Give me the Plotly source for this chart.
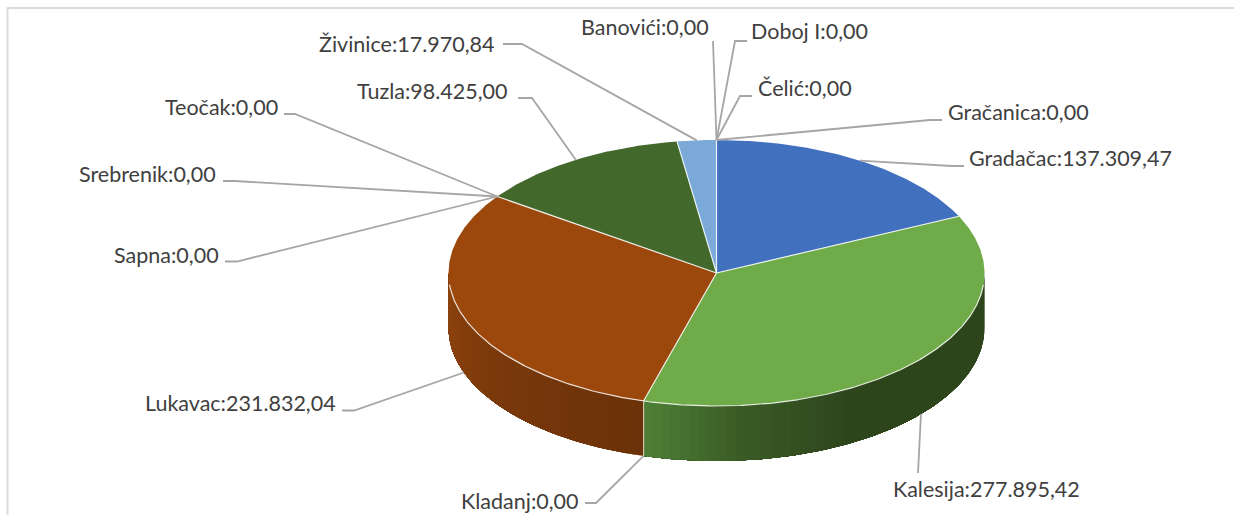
import math
import plotly.graph_objects as go

# ---- data ----
categories = ["Banovići", "Čelić", "Doboj I", "Gračanica", "Gradačac", "Kalesija", "Kladanj",
              "Lukavac", "Sapna", "Srebrenik", "Teočak", "Tuzla", "Živinice"]
values = [0.00, 0.00, 0.00, 0.00, 137309.47, 277895.42, 0.00,
          231832.04, 0.00, 0.00, 0.00, 98425.00, 17970.84]

# ---- styles ----
slice_colors = {"Gradačac": "#4170BF", "Kalesija": "#6FAB48", "Lukavac": "#9C480D",
                "Tuzla": "#43682B", "Živinice": "#7BAAD9"}
side_stops = {"Kalesija": [(90, "#2E451C"), (150, "#2E451C"), (175, "#3A5B25"), (195.75, "#4F8037")],
              "Lukavac": [(195.75, "#6B3108"), (235, "#7A390B"), (270, "#8F430E")]}
TEXT = "#404040"
LEADER = "#A6A6A6"
FRAME = "#DCDCDC"
FONT = "Lato"
FONT_SIZE = 21.5

# ---- layout geometry (pie projection, label boxes) ----
CX, CY, RX, RY, DEPTH = 716.5, 273, 268, 133, 55
# name: (label centre x, label centre y, elbow x, elbow y, leader start x)
label_layout = {
    "Banovići": (645, 26.5, 713, 41, 713),
    "Čelić": (805, 87.5, 740, 96, 752),
    "Doboj I": (809, 30.5, 735, 41, 747),
    "Gračanica": (1018, 111.5, 930, 120, 942),
    "Gradačac": (1070, 157.5, 952, 166, 964),
    "Kalesija": (986, 488.5, 918, 473, 918),
    "Kladanj": (520, 500.5, 596, 503, 585),
    "Lukavac": (240, 402.5, 354, 410.5, 342),
    "Sapna": (166, 254.5, 237, 261.5, 225),
    "Srebrenik": (147, 173.5, 235, 181, 223),
    "Teočak": (221, 106.5, 295, 114, 284),
    "Tuzla": (432, 90.5, 532, 98, 518),
    "Živinice": (407, 43.5, 522, 44, 503),
}


def top(deg, depth=0.0):
    a = math.radians(deg)
    return CX + RX * math.sin(a), CY - RY * math.cos(a) + depth


def arc(a0, a1, depth=0.0, n=None):
    n = n or max(2, int(abs(a1 - a0)) * 2)
    return [top(a0 + (a1 - a0) * i / n, depth) for i in range(n + 1)]


def fmt(v):
    s = f"{v:,.2f}"
    return s.replace(",", "#").replace(".", ",").replace("#", ".")


def lerp_color(stops, deg):
    for (d0, c0), (d1, c1) in zip(stops, stops[1:]):
        if d0 <= deg <= d1:
            t = (deg - d0) / (d1 - d0)
            r = [int(c0[i:i + 2], 16) * (1 - t) + int(c1[i:i + 2], 16) * t for i in (1, 3, 5)]
            return "#%02X%02X%02X" % tuple(round(x) for x in r)
    return stops[-1][1]


total = sum(values)
spans = {}
cum = 0.0
for name, v in zip(categories, values):
    start = cum / total * 360
    cum += v
    spans[name] = (start, cum / total * 360)

fig = go.Figure()


def poly(pts, color):
    fig.add_trace(go.Scatter(x=[p[0] for p in pts], y=[p[1] for p in pts], mode="lines",
                             fill="toself", fillcolor=color, line=dict(width=0),
                             hoverinfo="skip", showlegend=False))


def line(pts, color, width):
    fig.add_trace(go.Scatter(x=[p[0] for p in pts], y=[p[1] for p in pts], mode="lines",
                             line=dict(color=color, width=width), hoverinfo="skip", showlegend=False))


# side wall, shaded in narrow overlapping strips
for name, stops in side_stops.items():
    a0, a1 = spans[name]
    a0, a1 = max(a0, 90), min(a1, 270)
    n = int((a1 - a0) / 2) + 1
    for i in range(n):
        s0 = a0 + (a1 - a0) * i / n
        s1 = a0 + (a1 - a0) * (i + 1) / n
        # each strip runs on to the far end, later strips paint over it
        poly(arc(s0, a1) + arc(a1, s0, DEPTH), lerp_color(stops, (s0 + s1) / 2))

# top face
for name, color in slice_colors.items():
    a0, a1 = spans[name]
    poly([(CX, CY)] + arc(a0, a1) + [(CX, CY)], color)

# white seams
for name in slice_colors:
    a0 = spans[name][0]
    line([(CX, CY), top(a0)], "rgba(255,255,255,0.85)", 1.2)
line(arc(95, 265), "rgba(255,255,255,0.85)", 1.2)
sx = spans["Kalesija"][1]
line([top(sx), top(sx, DEPTH)], "rgba(240,225,215,0.8)", 1.2)

# leader lines and labels
annotations = []
for name, v in zip(categories, values):
    a0, a1 = spans[name]
    mid = (a0 + a1) / 2
    depth = DEPTH if 90 < mid < 270 else 0
    lx, ly, ex, ey, sx_ = label_layout[name]
    line([(sx_, ey), (ex, ey), top(mid, depth)], LEADER, 1.8)
    annotations.append(dict(x=lx, y=ly, text=f"{name}:{fmt(v)}", showarrow=False, xanchor="center",
                            yanchor="middle", font=dict(family=FONT, size=FONT_SIZE, color=TEXT)))

fig.update_layout(
    width=1234, height=515, margin=dict(l=0, r=0, t=0, b=0),
    paper_bgcolor="white", plot_bgcolor="white", showlegend=False,
    xaxis=dict(range=[0, 1234], visible=False, fixedrange=True),
    yaxis=dict(range=[515, 0], visible=False, fixedrange=True),
    annotations=annotations,
    shapes=[dict(type="line", x0=7.5, x1=7.5, y0=7, y1=515, line=dict(color=FRAME, width=2)),
            dict(type="line", x0=7, x1=1234, y0=8, y1=8, line=dict(color=FRAME, width=2))],
)
fig.write_html("out.html", config={"displayModeBar": False},
               post_script="document.body.style.margin='0';document.body.style.overflow='hidden';")
